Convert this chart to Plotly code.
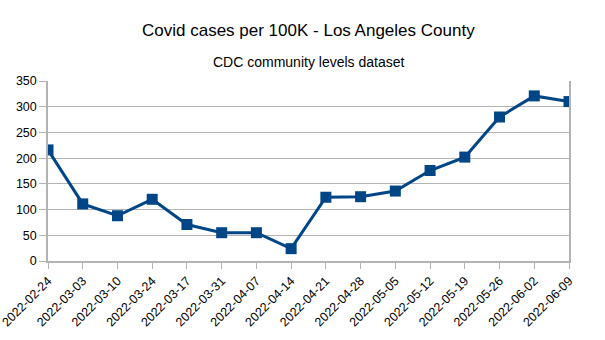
import plotly.graph_objects as go

# Weekly report dates (in dataset order) and cases per 100K
report_dates = [
    "2022-02-24", "2022-03-03", "2022-03-10", "2022-03-24",
    "2022-03-17", "2022-03-31", "2022-04-07", "2022-04-14",
    "2022-04-21", "2022-04-28", "2022-05-05", "2022-05-12",
    "2022-05-19", "2022-05-26", "2022-06-02", "2022-06-09",
]
cases_per_100k = [216, 111, 88, 120, 71, 55, 55, 24,
                  124, 125, 136, 176, 202, 280, 321, 310]
y_ticks = [0, 50, 100, 150, 200, 250, 300, 350]

title_text = "Covid cases per 100K - Los Angeles County"
subtitle_text = "CDC community levels dataset"

FONT = "Liberation Sans, Arial, sans-serif"
LINE_COLOR = "#004586"
GRID_COLOR = "#b3b3b3"

fig = go.Figure(
    go.Scatter(
        x=report_dates,
        y=cases_per_100k,
        mode="lines+markers",
        line=dict(color=LINE_COLOR, width=3),
        marker=dict(symbol="square", size=11, color=LINE_COLOR),
        showlegend=False,
    )
)

fig.update_layout(
    width=605,
    height=340,
    margin=dict(l=48, r=36, t=81, b=79),
    paper_bgcolor="white",
    plot_bgcolor="white",
    font=dict(family=FONT, size=12, color="#000000"),
    annotations=[
        dict(text=title_text, xref="paper", yref="paper", x=0.5, y=1,
             xanchor="center", yanchor="middle", yshift=51, showarrow=False,
             font=dict(family=FONT, size=17, color="#000000")),
        dict(text=subtitle_text, xref="paper", yref="paper", x=0.5, y=1,
             xanchor="center", yanchor="middle", yshift=19, showarrow=False,
             font=dict(family=FONT, size=14, color="#000000")),
    ],
)

fig.update_xaxes(
    type="category",
    range=[0, len(report_dates) - 1],
    automargin=False,
    tickangle=-45,
    ticks="outside",
    ticklen=6,
    tickcolor=GRID_COLOR,
    showline=True,
    linecolor=GRID_COLOR,
    linewidth=1.5,
    showgrid=False,
    tickfont=dict(family=FONT, size=12.5, color="#000000"),
)

fig.update_yaxes(
    range=[0, 350],
    tickvals=y_ticks,
    automargin=False,
    ticks="outside",
    ticklen=7,
    tickcolor=GRID_COLOR,
    showline=True,
    mirror=True,
    linecolor=GRID_COLOR,
    linewidth=1.5,
    showgrid=True,
    gridcolor=GRID_COLOR,
    gridwidth=1,
    zeroline=False,
    tickfont=dict(family=FONT, size=12.5, color="#000000"),
)

fig.write_html("out.html")
